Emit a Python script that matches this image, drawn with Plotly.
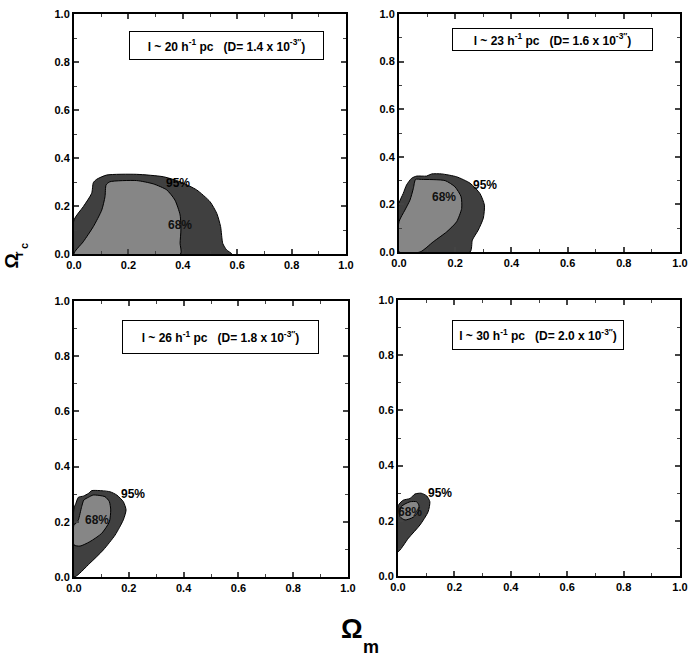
import plotly.graph_objects as go

# confidence contours (omega_m, omega_rc)
p1_95_x = [0, 0, 0.034, 0.065, 0.071, 0.083, 0.12, 0.23, 0.328, 0.39, 0.451, 0.5, 0.525, 0.539, 0.547, 0.561, 0.58, 0]
p1_95_y = [0, 0.142, 0.197, 0.253, 0.297, 0.311, 0.329, 0.332, 0.322, 0.301, 0.267, 0.218, 0.169, 0.114, 0.044, 0.017, 0, 0]
p1_68_x = [0, 0.034, 0.071, 0.102, 0.114, 0.118, 0.132, 0.23, 0.292, 0.341, 0.371, 0.39, 0.393, 0.39, 0.392, 0]
p1_68_y = [0, 0.051, 0.114, 0.183, 0.239, 0.288, 0.301, 0.306, 0.292, 0.267, 0.225, 0.163, 0.1, 0.044, 0, 0]

p2_95_x = [0, 0, 0.015, 0.027, 0.045, 0.063, 0.098, 0.116, 0.152, 0.205, 0.253, 0.288, 0.304, 0.3, 0.282, 0.261, 0.253, 0]
p2_95_y = [0, 0.204, 0.246, 0.282, 0.31, 0.319, 0.319, 0.328, 0.328, 0.316, 0.289, 0.246, 0.197, 0.142, 0.092, 0.05, 0, 0]
p2_68_x = [0, 0, 0.021, 0.039, 0.051, 0.059, 0.08, 0.164, 0.199, 0.221, 0.223, 0.205, 0.17, 0.122, 0.075, 0]
p2_68_y = [0, 0.127, 0.176, 0.218, 0.267, 0.305, 0.305, 0.3, 0.274, 0.232, 0.183, 0.127, 0.085, 0.043, 0, 0]

p3_95_x = [0, 0.058, 0.107, 0.15, 0.18, 0.19, 0.18, 0.156, 0.131, 0.065, 0.053, 0.034, 0.016, 0.007, 0, 0]
p3_95_y = [0, 0.05, 0.098, 0.152, 0.207, 0.243, 0.273, 0.297, 0.309, 0.313, 0.303, 0.293, 0.289, 0.267, 0.25, 0]
p3_68_x = [0, 0.022, 0.058, 0.101, 0.129, 0.134, 0.129, 0.113, 0.07, 0.053, 0.036, 0.028, 0.016, 0.007, 0, 0]
p3_68_y = [0.116, 0.112, 0.128, 0.158, 0.2, 0.243, 0.273, 0.291, 0.297, 0.289, 0.279, 0.255, 0.207, 0.194, 0.19, 0.116]

p4_95_x = [0, 0.037, 0.078, 0.107, 0.113, 0.102, 0.082, 0.06, 0.043, 0.019, 0.004, 0, 0]
p4_95_y = [0.088, 0.137, 0.185, 0.233, 0.269, 0.29, 0.30, 0.297, 0.281, 0.275, 0.261, 0.25, 0.088]
p4_68_x = [0.007, 0.025, 0.054, 0.072, 0.074, 0.066, 0.043, 0.025, 0.011, 0.007, 0.007]
p4_68_y = [0.215, 0.203, 0.213, 0.233, 0.257, 0.269, 0.269, 0.261, 0.251, 0.233, 0.215]

# scale of each panel and the angular size D (units of 10^-3 arcsec)
scales = [20, 23, 26, 30]
d_sizes = ['1.4', '1.6', '1.8', '2.0']

# where the 95% / 68% labels sit
lab95 = [(0.383, 0.297), (0.306, 0.28), (0.217, 0.30), (0.149, 0.30)]
lab68 = [(0.39, 0.121), (0.161, 0.23), (0.083, 0.207), (0.043, 0.233)]

W, H = 699, 656
FONT = 'Liberation Sans Narrow, Liberation Sans, Arial'
TITLE_FONT = 'Liberation Sans, Arial'

# panel boxes in pixels: left, right, top, bottom
panels = [(74, 346, 14, 254), (399, 680, 14, 252), (74, 348, 301, 577), (398, 680, 300, 576)]
# legend box centre (data units) and size (px)
boxes = [(0.561, 0.869, 193, 27), (0.546, 0.893, 199, 21), (0.535, 0.87, 195, 32), (0.496, 0.873, 170, 28)]

contours = [
    (p1_95_x, p1_95_y, p1_68_x, p1_68_y),
    (p2_95_x, p2_95_y, p2_68_x, p2_68_y),
    (p3_95_x, p3_95_y, p3_68_x, p3_68_y),
    (p4_95_x, p4_95_y, p4_68_x, p4_68_y),
]

fig = go.Figure()
annotations = []

for i, (c95x, c95y, c68x, c68y) in enumerate(contours):
    n = '' if i == 0 else str(i + 1)
    xa, ya = 'x' + n, 'y' + n
    fig.add_trace(go.Scatter(x=c95x, y=c95y, xaxis=xa, yaxis=ya, mode='lines', fill='toself',
                             fillcolor='#404040', line=dict(color='black', width=1, shape='spline', smoothing=0.6),
                             hoverinfo='skip', showlegend=False))
    fig.add_trace(go.Scatter(x=c68x, y=c68y, xaxis=xa, yaxis=ya, mode='lines', fill='toself',
                             fillcolor='#868686', line=dict(color='black', width=1, shape='spline', smoothing=0.6),
                             hoverinfo='skip', showlegend=False))

    left, right, top, bottom = panels[i]
    axis = dict(range=[0, 1], tick0=0, dtick=0.2, tickformat='.1f', ticks='inside', ticklen=5, tickwidth=1.5,
                minor=dict(ticks='inside', dtick=0.1, ticklen=3, tickwidth=1),
                showline=True, linewidth=2, linecolor='black', mirror='allticks',
                showgrid=False, zeroline=False, automargin=False,
                tickfont=dict(family=FONT, size=11, color='black', weight='bold'))
    fig.layout['xaxis' + n] = dict(axis, domain=[left / W, right / W], anchor=ya)
    fig.layout['yaxis' + n] = dict(axis, domain=[1 - bottom / H, 1 - top / H], anchor=xa)

    bx, by, bw, bh = boxes[i]
    annotations.append(dict(
        x=bx, y=by, xref=xa, yref=ya, showarrow=False, width=bw, height=bh,
        text='l ~ %d h<sup>-1</sup> pc   (D= %s x 10<sup>-3</sup><sup>′′</sup>)' % (scales[i], d_sizes[i]),
        font=dict(family=FONT, size=12, color='black', weight='bold'),
        bgcolor='white', bordercolor='black', borderwidth=1, borderpad=0))
    annotations.append(dict(x=lab95[i][0], y=lab95[i][1], xref=xa, yref=ya, showarrow=False, text='95%',
                            font=dict(family=FONT, size=12, color='black', weight='bold')))
    annotations.append(dict(x=lab68[i][0], y=lab68[i][1], xref=xa, yref=ya, showarrow=False, text='68%',
                            font=dict(family=FONT, size=12, color='#111111', weight='bold')))


def paper_text(txt, px, py, size, angle=0):
    return dict(x=px / W, y=1 - py / H, xref='paper', yref='paper', showarrow=False, text=txt,
                textangle=angle, font=dict(family=TITLE_FONT, size=size, color='black', weight='bold'))


# axis titles: Omega_m and Omega_{r_c}
annotations.append(paper_text('Ω', 352, 646, 27))
annotations.append(paper_text('m', 371, 659, 18))
annotations.append(paper_text('Ω', -2, 261, 19, -90))
annotations.append(paper_text('r', 8, 254, 13, -90))
annotations.append(paper_text('c', 16, 246, 11, -90))

fig.update_layout(width=W, height=H, margin=dict(l=0, r=0, t=0, b=0, autoexpand=False),
                  paper_bgcolor='white', plot_bgcolor='white', annotations=annotations)

fig.write_html("out.html", config={'displayModeBar': False},
               post_script="document.body.style.margin='0px';")
